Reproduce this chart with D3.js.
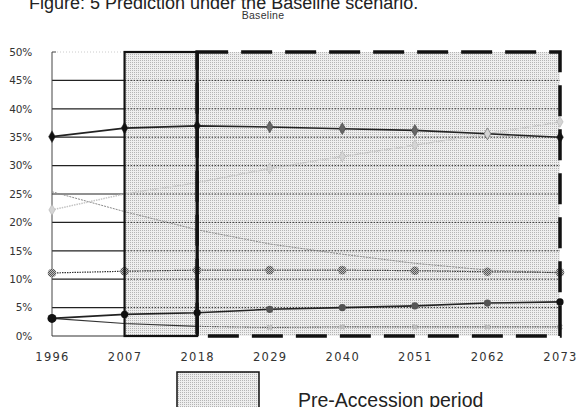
<!DOCTYPE html>
<html>
<head>
<meta charset="utf-8">
<script src="https://cdn.jsdelivr.net/npm/d3@7"></script>
<style>
  body { margin: 0; background: #fff; }
  svg { display: block; }
</style>
</head>
<body>
<div class="graphic"></div>
<script>
var years = [1996, 2007, 2018, 2029, 2040, 2051, 2062, 2073];
var yTicks = [0, 5, 10, 15, 20, 25, 30, 35, 40, 45, 50];

// values in percent
var seriesA = [35.1, 36.6, 37.0, 36.8, 36.5, 36.2, 35.6, 35.0];
var seriesB = [22.2, 25.0, 27.0, 29.5, 31.6, 33.6, 35.6, 37.7];
var seriesC = [25.4, 21.9, 18.7, 16.2, 14.4, 12.8, 11.6, 11.1];
var seriesD = [11.1, 11.4, 11.6, 11.6, 11.6, 11.5, 11.3, 11.2];
var seriesE = [3.1, 3.8, 4.1, 4.7, 5.0, 5.3, 5.8, 6.0];
var seriesF = [3.1, 2.2, 1.7, 1.5, 1.6, 1.6, 1.6, 1.6];

var periodOne = [2007, 2018];
var periodTwo = [2018, 2073];

var svg_width = 579, svg_height = 407;

var svg = d3.select(".graphic")
  .append("svg")
  .attr("width", svg_width)
  .attr("height", svg_height);

var x = d3.scaleLinear().domain([1996, 2073]).range([52, 560]);
var y = d3.scaleLinear().domain([0, 50]).range([336, 52]);

// stipple fill
var defs = svg.append("defs");
var pat = defs.append("pattern")
  .attr("id", "stipple")
  .attr("patternUnits", "userSpaceOnUse")
  .attr("width", 2).attr("height", 2);
pat.append("rect").attr("width", 2).attr("height", 2).attr("fill", "#eeeeee");
pat.append("rect").attr("width", 1).attr("height", 1).attr("fill", "#b4b4b4");

var hatch = defs.append("pattern")
  .attr("id", "hatch")
  .attr("patternUnits", "userSpaceOnUse")
  .attr("width", 2).attr("height", 2);
hatch.append("rect").attr("width", 2).attr("height", 2).attr("fill", "#bbb");
hatch.append("rect").attr("width", 1).attr("height", 1).attr("fill", "#555");
hatch.append("rect").attr("x", 1).attr("y", 1).attr("width", 1).attr("height", 1).attr("fill", "#555");

// title (cut at the top in the scan)
svg.append("text")
  .attr("x", 29).attr("y", 9)
  .attr("font-family", "Liberation Sans, Arial, sans-serif")
  .attr("font-size", "18px")
  .attr("fill", "#222")
  .text("Figure: 5 Prediction under the Baseline scenario.");

svg.append("text")
  .attr("x", 263).attr("y", 19)
  .attr("text-anchor", "middle")
  .attr("font-family", "Liberation Sans, Arial, sans-serif")
  .attr("font-size", "10.5px")
  .attr("letter-spacing", "0.3px")
  .attr("fill", "#333")
  .text("Baseline");

// shaded periods
svg.append("rect")
  .attr("x", x(periodOne[0])).attr("y", y(50))
  .attr("width", x(periodTwo[1]) - x(periodOne[0]))
  .attr("height", y(0) - y(50))
  .attr("fill", "url(#stipple)");

// gridlines: solid in white part, dotted in shaded part
var grid = svg.append("g");
grid.selectAll("line.solid")
  .data(yTicks.filter(function(d){ return d > 0 && d < 50; }))
  .enter().append("line")
  .attr("class", "solid")
  .attr("x1", x(1996)).attr("x2", x(periodOne[0]))
  .attr("y1", function(d){ return y(d); })
  .attr("y2", function(d){ return y(d); })
  .attr("stroke", "#222").attr("stroke-width", 1.2);

grid.selectAll("line.dotted")
  .data(yTicks.filter(function(d){ return d > 0 && d < 50; }))
  .enter().append("line")
  .attr("class", "dotted")
  .attr("x1", x(periodOne[0])).attr("x2", x(periodTwo[1]))
  .attr("y1", function(d){ return y(d); })
  .attr("y2", function(d){ return y(d); })
  .attr("stroke", "#333").attr("stroke-width", 1)
  .attr("stroke-dasharray", "1.5,1.5");

// faint top line in the white part
grid.append("line")
  .attr("x1", x(1996) + 5).attr("x2", x(periodOne[0]))
  .attr("y1", y(50)).attr("y2", y(50))
  .attr("stroke", "#ccc").attr("stroke-dasharray", "1,2");

// axes
svg.append("line")
  .attr("x1", x(1996)).attr("x2", x(1996))
  .attr("y1", y(50)).attr("y2", y(0))
  .attr("stroke", "#444").attr("stroke-width", 1);
svg.append("line")
  .attr("x1", x(1996)).attr("x2", x(1996) + 4)
  .attr("y1", y(50)).attr("y2", y(50))
  .attr("stroke", "#444").attr("stroke-width", 1);
svg.append("line")
  .attr("x1", x(1996)).attr("x2", x(periodOne[0]))
  .attr("y1", y(0)).attr("y2", y(0))
  .attr("stroke", "#333").attr("stroke-width", 1.2);

var yAxis = svg.append("g")
  .attr("transform", "translate(" + (x(1996) - 20) + ",0)")
  .call(d3.axisLeft(y).tickValues(yTicks).tickSize(0).tickFormat(function(d){ return d + "%"; }));
yAxis.select(".domain").remove();
yAxis.selectAll("text")
  .attr("x", 0)
  .attr("text-anchor", "end")
  .attr("font-family", "DejaVu Sans, sans-serif")
  .attr("font-size", "10.5px")
  .attr("letter-spacing", "-0.2px")
  .attr("fill", "#333");

var xAxis = svg.append("g")
  .attr("transform", "translate(0," + (y(0) + 14) + ")")
  .call(d3.axisBottom(x).tickValues(years).tickSize(0).tickFormat(d3.format("d")));
xAxis.select(".domain").remove();
xAxis.selectAll("text")
  .attr("font-family", "DejaVu Sans, sans-serif")
  .attr("font-size", "11.5px")
  .attr("letter-spacing", "1.3px")
  .attr("fill", "#333");

// series
function pts(vals) {
  return years.map(function(yr, i){ return [yr, vals[i]]; });
}
var line = d3.line()
  .x(function(d){ return x(d[0]); })
  .y(function(d){ return y(d[1]); });

function drawLine(vals, color, width, dash) {
  svg.append("path")
    .datum(pts(vals))
    .attr("d", line)
    .attr("fill", "none")
    .attr("stroke", color)
    .attr("stroke-width", width)
    .attr("stroke-dasharray", dash || null);
}

drawLine(seriesC, "#8a8a8a", 1, "2,1");
drawLine(seriesB, "#c4c4c4", 1.5, "1.5,1");
// lowest line: solid up to 2007, dotted grey afterwards
svg.append("path")
  .datum(pts(seriesF).slice(0, 3))
  .attr("d", line)
  .attr("fill", "none").attr("stroke", "#333").attr("stroke-width", 1.2);
svg.append("path")
  .datum(pts(seriesF).slice(2))
  .attr("d", line)
  .attr("fill", "none").attr("stroke", "#555").attr("stroke-width", 1.1)
  .attr("stroke-dasharray", "1.5,1");
drawLine(seriesD, "#333", 1.2, "1.5,1");
drawLine(seriesE, "#222", 1.6);
drawLine(seriesA, "#222", 1.6);

// markers
var diamond = d3.symbol().type(d3.symbolDiamond).size(40);
svg.selectAll("path.mA")
  .data(pts(seriesA)).enter().append("path")
  .attr("class", "mA")
  .attr("d", diamond)
  .attr("transform", function(d){ return "translate(" + x(d[0]) + "," + y(d[1]) + ")"; })
  .attr("fill", function(d, i){ return i >= 3 && i < 7 ? "#666" : "#111"; })
  .attr("stroke", "#333").attr("stroke-width", 0.5);

svg.selectAll("path.mB")
  .data(pts(seriesB).filter(function(d){ return d[0] !== 2007 && d[0] !== 2018; })).enter().append("path")
  .attr("class", "mB")
  .attr("d", d3.symbol().type(d3.symbolDiamond).size(34))
  .attr("transform", function(d){ return "translate(" + x(d[0]) + "," + y(d[1]) + ")"; })
  .attr("fill", "#d4d4d4")
  .attr("stroke", "#aaa").attr("stroke-width", 0.5);

svg.selectAll("circle.mD")
  .data(pts(seriesD)).enter().append("circle")
  .attr("class", "mD")
  .attr("cx", function(d){ return x(d[0]); })
  .attr("cy", function(d){ return y(d[1]); })
  .attr("r", 4.3)
  .attr("fill", "url(#hatch)");

svg.selectAll("circle.mE")
  .data(pts(seriesE)).enter().append("circle")
  .attr("class", "mE")
  .attr("cx", function(d){ return x(d[0]); })
  .attr("cy", function(d){ return y(d[1]); })
  .attr("r", function(d, i){ return i === 0 ? 4.5 : 3.6; })
  .attr("fill", function(d, i){ return i >= 3 && i < 7 ? "#555" : "#111"; });

svg.selectAll("path.mF")
  .data(pts(seriesF).slice(3)).enter().append("path")
  .attr("class", "mF")
  .attr("d", d3.symbol().type(d3.symbolCross).size(22))
  .attr("transform", function(d){ return "translate(" + x(d[0]) + "," + y(d[1]) + ") rotate(45)"; })
  .attr("fill", "#bbb");

// period frames
svg.append("rect")
  .attr("x", x(periodOne[0])).attr("y", y(50))
  .attr("width", x(periodOne[1]) - x(periodOne[0]))
  .attr("height", y(0) - y(50))
  .attr("fill", "none")
  .attr("stroke", "#111").attr("stroke-width", 2.2);

svg.append("rect")
  .attr("x", x(periodTwo[0])).attr("y", y(50))
  .attr("width", x(periodTwo[1]) - x(periodTwo[0]))
  .attr("height", y(0) - y(50))
  .attr("fill", "none")
  .attr("stroke", "#111").attr("stroke-width", 3.5)
  .attr("stroke-dasharray", "31,13");

// thick solid edge at 2018
svg.append("line")
  .attr("x1", x(periodTwo[0])).attr("x2", x(periodTwo[0]))
  .attr("y1", y(50)).attr("y2", y(0))
  .attr("stroke", "#111").attr("stroke-width", 3.2);

// legend
svg.append("rect")
  .attr("x", 177).attr("y", 372)
  .attr("width", 82).attr("height", 40)
  .attr("fill", "url(#stipple)")
  .attr("stroke", "#111").attr("stroke-width", 1.5);

svg.append("text")
  .attr("x", 298).attr("y", 407)
  .attr("font-family", "Liberation Sans, Arial, sans-serif")
  .attr("font-size", "19.5px")
  .attr("fill", "#222")
  .text("Pre-Accession period");
</script>
</body>
</html>
